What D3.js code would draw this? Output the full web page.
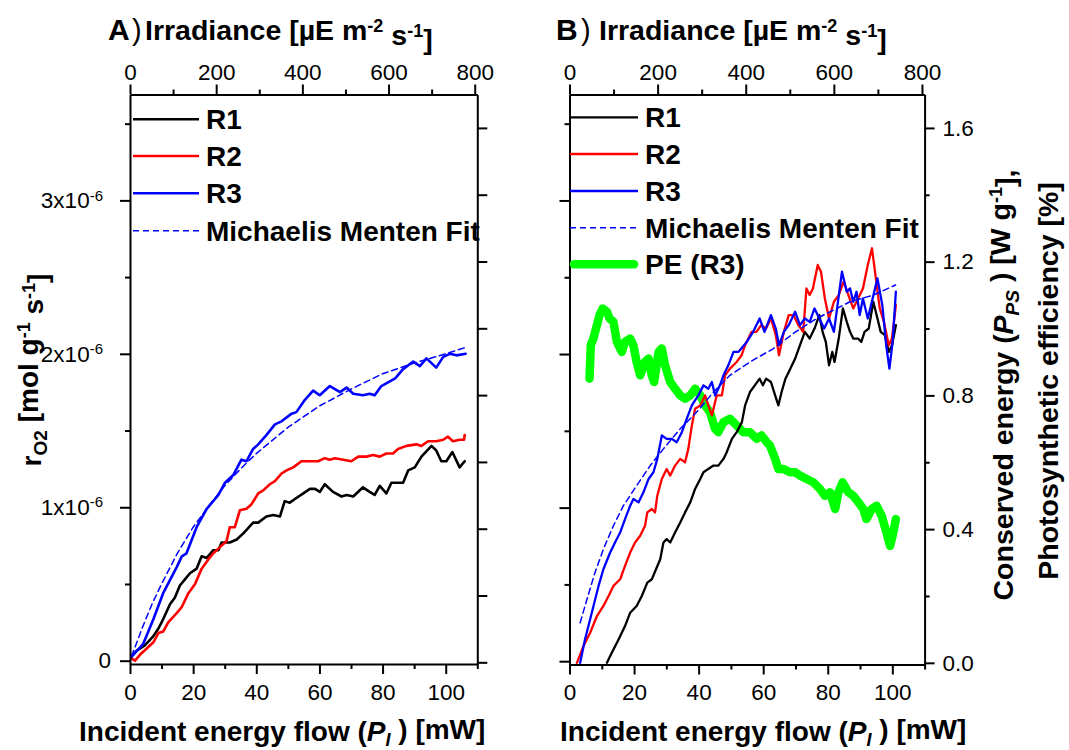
<!DOCTYPE html>
<html>
<head>
<meta charset="utf-8">
<script src="https://cdn.jsdelivr.net/npm/d3@7"></script>
<style>
  body { margin: 0; background: #fff; }
  text { font-family: "Liberation Sans", Arial, sans-serif; }
</style>
</head>
<body>
<div id="chart"></div>
<script>
// ---- data ----
// Panel A: x = incident energy flow [mW], y = rO2 in units of 1e-6 mol g-1 s-1
var r1A = [[0,0.015],[2.1,0.065],[4.7,0.10],[7.4,0.16],[9,0.21],[10.5,0.27],[12.7,0.37],[14.2,0.41],[15.8,0.49],[17.4,0.53],[19,0.57],[21.1,0.60],[22.7,0.68],[24.3,0.67],[26.4,0.72],[28,0.72],[29,0.77],[31.6,0.77],[33.8,0.79],[35.9,0.83],[39,0.90],[40.6,0.90],[43.2,0.94],[45.4,0.95],[47.5,0.94],[49,1.04],[50.6,1.03],[52.7,1.06],[54.9,1.09],[57,1.12],[58.6,1.12],[60.1,1.10],[61.7,1.15],[64.3,1.10],[67,1.07],[68.6,1.08],[70.7,1.07],[73.8,1.13],[75.9,1.10],[77.5,1.08],[79.1,1.14],[81.2,1.09],[82.8,1.16],[84.9,1.16],[86.5,1.16],[88.1,1.24],[90.2,1.26],[92.3,1.33],[95.5,1.40],[97,1.37],[98.6,1.30],[100.2,1.30],[102.1,1.36],[104.4,1.26],[106,1.30]];
var r2A = [[0,0.02],[1.6,0.0],[3.2,0.04],[5.3,0.08],[7.4,0.12],[9,0.18],[10.5,0.19],[12.1,0.25],[14.8,0.31],[16.4,0.35],[18.5,0.44],[20.6,0.50],[22.7,0.60],[24.8,0.66],[26.4,0.70],[28.5,0.74],[30.6,0.78],[31.6,0.87],[33.2,0.87],[34.8,0.98],[36.9,0.99],[38.5,1.02],[40.6,1.09],[42.2,1.11],[44.3,1.15],[45.9,1.17],[48,1.22],[49.6,1.24],[51.7,1.26],[54.3,1.30],[56.9,1.30],[59.6,1.30],[61.7,1.32],[63.3,1.31],[64.9,1.32],[67.5,1.31],[70.1,1.30],[72.3,1.33],[74.9,1.33],[77,1.34],[79.1,1.33],[81.2,1.35],[83.3,1.35],[84.9,1.38],[87.6,1.40],[90.7,1.41],[92.3,1.40],[94.4,1.43],[97,1.43],[99.2,1.44],[100.7,1.46],[102.3,1.43],[104.4,1.44],[105.8,1.44],[106,1.47]];
var r3A = [[0,0.015],[4.2,0.11],[7.4,0.27],[10.5,0.44],[14.8,0.61],[16.4,0.68],[17.9,0.70],[21.1,0.87],[24.3,0.99],[28,1.08],[30.1,1.16],[32.7,1.21],[35.3,1.31],[36.9,1.30],[39,1.38],[40.6,1.41],[43.2,1.47],[45.9,1.54],[48,1.56],[51.2,1.61],[52.7,1.62],[55.4,1.70],[58,1.76],[60.1,1.73],[63.3,1.79],[66.5,1.75],[68.6,1.78],[70.7,1.74],[73.8,1.73],[75.9,1.74],[77.5,1.73],[79.6,1.79],[82.3,1.82],[84,1.84],[86.5,1.90],[89.7,1.95],[91.8,1.92],[93.9,1.97],[97,1.91],[99.2,1.98],[101.3,2.0],[103.4,1.99],[106.3,2.0]];
var fitA = [[0.5,0.03],[2,0.11],[4,0.22],[7,0.37],[10,0.50],[15,0.70],[20,0.87],[25,1.01],[30,1.14],[35,1.25],[40,1.35],[50,1.52],[60,1.66],[70,1.77],[80,1.87],[90,1.94],[100,2.00],[106,2.04]];

// Panel B: x = incident energy flow [mW], y = conserved energy [W g-1] / PE [%]
var r1B = [[11.6,0],[13.1,0.03],[15.2,0.07],[17.2,0.11],[18.8,0.15],[20.8,0.17],[22.4,0.20],[24.1,0.24],[25.5,0.25],[26.8,0.28],[28.1,0.31],[29.1,0.36],[30.1,0.37],[31.2,0.36],[32.7,0.39],[34.3,0.42],[35.8,0.45],[37.4,0.48],[38.9,0.52],[40.5,0.55],[41.5,0.57],[43,0.58],[44.6,0.59],[46.1,0.59],[47.7,0.61],[48.7,0.63],[50.3,0.67],[51.8,0.69],[53.4,0.72],[54.4,0.77],[55.9,0.81],[57.4,0.83],[58.9,0.85],[59.9,0.83],[60.9,0.85],[62.4,0.84],[63.7,0.80],[64.7,0.77],[65.7,0.81],[66.9,0.85],[68.4,0.88],[69.9,0.91],[71.4,0.95],[72.9,0.99],[74.4,0.97],[75.9,1.00],[77.4,1.04],[78.4,0.99],[79.4,0.96],[80.4,0.89],[81.4,0.93],[82.1,0.90],[83.4,0.97],[84.7,1.06],[85.9,1.02],[86.9,0.99],[87.9,0.97],[89.4,0.97],[90.4,0.96],[91.4,0.99],[92.7,1.00],[94.1,1.08],[95.4,1.03],[96.4,0.99],[97.7,0.98],[98.9,0.93],[99.9,0.95],[101.1,1.01]];
var r2B = [[2.3,0],[4.3,0.05],[6.4,0.09],[8.5,0.14],[10.5,0.17],[12.1,0.20],[13.6,0.23],[15.7,0.25],[17.2,0.29],[18.8,0.33],[20.3,0.36],[21.9,0.38],[23.4,0.41],[24.1,0.45],[25.5,0.46],[26.5,0.45],[27.2,0.50],[28.6,0.55],[30.1,0.58],[31.2,0.56],[32.7,0.59],[34.3,0.61],[35.8,0.60],[36.8,0.64],[37.9,0.71],[38.9,0.76],[40.5,0.77],[42,0.80],[43,0.77],[44.1,0.74],[45.6,0.80],[47.2,0.80],[48.2,0.86],[49.7,0.88],[51.8,0.90],[53.3,0.92],[54.4,0.95],[56.4,0.99],[57.9,0.99],[59.4,1.01],[60.9,1.00],[62.4,1.03],[63.9,0.98],[64.9,0.92],[66.4,0.99],[67.9,1.04],[69.4,1.04],[70.9,1.01],[72.4,0.99],[73.4,1.12],[74.4,1.10],[75.4,1.12],[76.9,1.19],[77.9,1.17],[79.1,1.09],[80.4,1.03],[81.9,1.08],[83.4,1.10],[84.9,1.14],[86.4,1.10],[87.9,1.06],[89.4,1.09],[90.9,1.12],[92.4,1.19],[93.7,1.24],[94.9,1.15],[96.1,1.06],[97.4,1.02],[98.9,0.95],[99.9,0.97],[101.1,1.07]];
var r3B = [[3.3,0],[4.8,0.07],[6.9,0.15],[9,0.23],[10.5,0.28],[12.6,0.33],[14.1,0.36],[15.7,0.39],[17.2,0.43],[18.8,0.47],[19.8,0.49],[21.4,0.48],[22.9,0.51],[24.5,0.55],[26,0.57],[27.2,0.61],[28.6,0.68],[30.1,0.67],[31.7,0.67],[33.2,0.66],[34.8,0.69],[36.3,0.73],[37.9,0.77],[39.9,0.80],[41.5,0.83],[43,0.82],[44.1,0.84],[45.1,0.80],[46.6,0.83],[47.7,0.86],[49.2,0.89],[50.8,0.93],[52.3,0.93],[54.9,0.96],[56.9,0.99],[58.9,1.03],[60.4,0.99],[62.4,1.04],[63.9,1.00],[64.9,0.95],[66.4,0.99],[67.9,1.01],[69.9,1.05],[71.4,1.01],[72.9,1.03],[74.4,1.02],[75.9,1.06],[77.4,1.03],[78.9,1.00],[80.4,1.03],[81.9,0.99],[82.9,1.06],[84.4,1.17],[85.9,1.11],[86.9,1.12],[87.9,1.08],[88.9,1.11],[89.9,1.04],[90.9,1.09],[92.4,1.03],[93.9,1.09],[95.4,1.15],[96.9,1.07],[98.1,0.95],[99.1,0.88],[100.1,0.96],[101.1,1.11]];
var fitB = [[3.3,0.12],[5.4,0.19],[7.9,0.27],[10.5,0.34],[13.6,0.41],[16.7,0.47],[20.8,0.53],[25,0.59],[29.1,0.64],[34.3,0.70],[39.4,0.75],[44.6,0.81],[49.7,0.86],[55.9,0.90],[63.2,0.94],[70,0.99],[76.6,1.03],[86.9,1.08],[94.1,1.10],[101,1.13]];
var peB = [[6.2,0.85],[6.6,0.95],[7.4,0.97],[8.5,1.01],[9.3,1.04],[10.3,1.06],[11.6,1.05],[12.4,1.03],[13.6,1.02],[14.7,0.96],[16.2,0.93],[17.2,0.96],[18.8,0.97],[19.8,0.95],[20.8,0.90],[21.9,0.86],[23.4,0.90],[24.5,0.91],[25.5,0.86],[26.2,0.84],[27.6,0.93],[28.6,0.94],[29.6,0.89],[31.2,0.84],[32.7,0.82],[34.3,0.80],[35.8,0.79],[37.4,0.80],[38.9,0.82],[40.5,0.80],[42,0.77],[43.5,0.75],[45.1,0.70],[46.1,0.69],[47.7,0.72],[49.7,0.73],[51.8,0.71],[53.9,0.69],[55.9,0.69],[58,0.67],[59.5,0.68],[61.1,0.66],[62.1,0.65],[63.7,0.61],[64.7,0.58],[66.3,0.58],[68.3,0.57],[69.9,0.57],[71.4,0.56],[73.5,0.55],[75.5,0.54],[77.6,0.52],[79.1,0.50],[80.7,0.51],[82.3,0.46],[83.3,0.51],[84.6,0.54],[86.4,0.51],[87.9,0.50],[89.5,0.48],[91,0.46],[92,0.43],[93.6,0.46],[95.1,0.47],[96.7,0.44],[98.2,0.39],[99.3,0.35],[100.1,0.38],[101.1,0.43]];

// tick values
var xMajor = [0, 20, 40, 60, 80, 100];
var xMinor = [10, 30, 50, 70, 90, 110];
var topMajor = [0, 200, 400, 600, 800];
var topMinor = [100, 300, 500, 700];
var leftMajor = [0, 1, 2, 3];
var leftMinor = [0.5, 1.5, 2.5, 3.5];
var rightMajor = [0, 0.4, 0.8, 1.2, 1.6];
var rightMinor = [0.2, 0.6, 1.0, 1.4];

var legendA = ["R1", "R2", "R3", "Michaelis Menten Fit"];
var legendB = ["R1", "R2", "R3", "Michaelis Menten Fit", "PE (R3)"];

//---------------------------------------------------------------------
var svg = d3.select("#chart")
  .append("svg")
  .attr("width", 1069)
  .attr("height", 750);

var panels = {
  A: { left: 130, right: 477.3, top: 94.5, bottom: 664 },
  B: { left: 569.5, right: 924.6, top: 94.5, bottom: 664.5 }
};

function styleAxis(g) {
  g.select(".domain").attr("stroke", "#000").attr("stroke-width", 2);
  g.selectAll(".tick line").attr("stroke", "#000").attr("stroke-width", 2);
  g.selectAll(".tick text").attr("font-size", 22.5).attr("fill", "#000")
    .attr("font-family", "'Liberation Sans', Arial, sans-serif");
}

function drawAxis(axisFn, scale, transform, major, minor, majorLen, minorLen, pad, fmt) {
  var g = svg.append("g").attr("transform", transform)
    .call(axisFn(scale).tickValues(major).tickSize(majorLen).tickSizeOuter(0)
      .tickPadding(pad).tickFormat(fmt || ""));
  styleAxis(g);
  if (minor) {
    var m = svg.append("g").attr("transform", transform)
      .call(axisFn(scale).tickValues(minor).tickSize(minorLen).tickSizeOuter(0).tickFormat(""));
    m.select(".domain").remove();
    styleAxis(m);
  }
  return g;
}

// labels like 2x10^-6 on panel A's left axis
function sciLabels(g) {
  g.selectAll(".tick text").each(function(d) {
    var t = d3.select(this);
    t.text(null);
    if (d === 0) { t.text("0"); return; }
    t.attr("x", -27);
    t.append("tspan").text(d + "x10");
    t.append("tspan").attr("dy", "-0.5em").attr("font-size", 15).text("-6");
  });
}

function drawPanel(key, series) {
  var p = panels[key];
  var x = d3.scaleLinear().domain([0, 110]).range([p.left, p.right]);
  var xTop = d3.scaleLinear().domain([0, 806]).range([p.left, p.right]);
  var yL = d3.scaleLinear().domain([-0.0215, 3.69]).range([p.bottom, p.top]);
  var yR = d3.scaleLinear().domain([-0.005, 1.70]).range([p.bottom, p.top]);

  var clipId = "clip" + key;
  svg.append("clipPath").attr("id", clipId).append("rect")
    .attr("x", p.left).attr("y", p.top)
    .attr("width", p.right - p.left).attr("height", p.bottom - p.top);
  var plot = svg.append("g").attr("clip-path", "url(#" + clipId + ")");

  series.forEach(function(s) {
    var y = s.axis === "left" ? yL : yR;
    var line = d3.line().x(d => x(d[0])).y(d => y(d[1]));
    plot.append("path")
      .datum(s.data)
      .attr("d", line)
      .attr("fill", "none")
      .attr("stroke", s.color)
      .attr("stroke-width", s.width)
      .attr("stroke-linejoin", "round")
      .attr("stroke-linecap", "round")
      .attr("stroke-dasharray", s.dash || null);
  });

  // axes
  drawAxis(d3.axisBottom, x, `translate(0, ${p.bottom})`, xMajor, xMinor, 10, 5, 10, d3.format("d"));
  drawAxis(d3.axisTop, xTop, `translate(0, ${p.top})`, topMajor, topMinor, 10, 5, 5, d3.format("d"));
  if (key === "A") {
    var gl = drawAxis(d3.axisLeft, yL, `translate(${p.left}, 0)`, leftMajor, leftMinor, 10, 5, 9, d3.format("d"));
    sciLabels(gl);
    drawAxis(d3.axisRight, yR, `translate(${p.right}, 0)`, rightMajor.concat(rightMinor), null, 10, 5, 8, null);
  } else {
    drawAxis(d3.axisLeft, yL, `translate(${p.left}, 0)`, leftMajor, leftMinor, 10, 5, 9, null);
    drawAxis(d3.axisRight, yR, `translate(${p.right}, 0)`, rightMajor, rightMinor, 10, 5, 8, d3.format(".1f"));
  }
}

function drawLegend(names, series, ys, x0, x1, textX) {
  names.forEach(function(name, i) {
    var s = series[i];
    var thick = s.width > 5;
    svg.append("line")
      .attr("x1", thick ? x0 + 4 : x0).attr("x2", thick ? x1 - 4 : x1)
      .attr("y1", ys[i]).attr("y2", ys[i])
      .attr("stroke", s.color).attr("stroke-width", s.width)
      .attr("stroke-linecap", thick ? "round" : "butt")
      .attr("stroke-dasharray", s.dash || null);
    svg.append("text")
      .attr("x", textX).attr("y", ys[i] + 10)
      .attr("font-size", 28).attr("font-weight", "bold")
      .text(name);
  });
}

var seriesA = [
  { data: r1A, color: "#000000", width: 2.6, axis: "left" },
  { data: r2A, color: "#ff0000", width: 2.6, axis: "left" },
  { data: r3A, color: "#0000ff", width: 2.6, axis: "left" },
  { data: fitA, color: "#0000ff", width: 1.5, dash: "6,4", axis: "left" }
];
var seriesB = [
  { data: r1B, color: "#000000", width: 2.3, axis: "right" },
  { data: r2B, color: "#ff0000", width: 2.3, axis: "right" },
  { data: r3B, color: "#0000ff", width: 2.3, axis: "right" },
  { data: fitB, color: "#0000ff", width: 1.5, dash: "6,4", axis: "right" },
  { data: peB, color: "#00ff00", width: 8.5, axis: "right" }
];

drawPanel("A", seriesA);
// PE drawn first in panel B so the other curves sit on top
drawPanel("B", [seriesB[4]].concat(seriesB.slice(0, 4)));
drawLegend(legendA, seriesA, [119.3, 156, 193.3, 230.7], 133, 199, 206);
drawLegend(legendB, seriesB, [117.3, 154, 191, 227.7, 264.3], 570, 638, 645);

// ---- titles ----
function irradianceTitle(xLetter, letter, xParen, xText) {
  svg.append("text").attr("x", xLetter).attr("y", 40)
    .attr("font-size", 30).attr("font-weight", "bold").text(letter);
  svg.append("text").attr("x", xParen).attr("y", 40)
    .attr("font-size", 29).text(")");
  var t = svg.append("text").attr("x", xText).attr("y", 40)
    .attr("font-size", 28.5).attr("font-weight", "bold");
  t.append("tspan").text("Irradiance [µE m");
  t.append("tspan").attr("dy", "-0.45em").attr("font-size", 18).text("-2");
  t.append("tspan").attr("dy", "0.45em").text(" s");
  t.append("tspan").attr("dy", "-0.45em").attr("font-size", 18).text("-1");
  t.append("tspan").attr("dy", "0.45em").text("]");
}
irradianceTitle(108, "A", 132, 145);
irradianceTitle(556, "B", 581, 599);

function energyTitle(x0) {
  var t = svg.append("text").attr("x", x0).attr("y", 741)
    .attr("font-size", 28).attr("font-weight", "bold");
  t.append("tspan").text("Incident energy flow (");
  t.append("tspan").attr("font-style", "italic").text("P");
  t.append("tspan").attr("font-style", "italic").attr("font-size", 18).attr("dy", "0.25em").text("I");
  t.append("tspan").attr("dy", "-0.25em").text(" ) [mW]");
}
energyTitle(79);
energyTitle(560);

// left y title (panel A)
var yt = svg.append("text")
  .attr("transform", "translate(41, 370) rotate(-90)")
  .attr("text-anchor", "middle")
  .attr("font-size", 28).attr("font-weight", "bold");
yt.append("tspan").text("r");
yt.append("tspan").attr("font-size", 19).attr("dy", "0.3em").text("O2");
yt.append("tspan").attr("dy", "-0.3em").text(" [mol g");
yt.append("tspan").attr("font-size", 18).attr("dy", "-0.45em").text("-1");
yt.append("tspan").attr("dy", "0.45em").text(" s");
yt.append("tspan").attr("font-size", 18).attr("dy", "-0.45em").text("-1");
yt.append("tspan").attr("dy", "0.45em").text("]");

// right y title (panel B), two lines
var rt1 = svg.append("text")
  .attr("transform", "translate(1013, 385) rotate(-90)")
  .attr("text-anchor", "middle")
  .attr("font-size", 28.5).attr("font-weight", "bold");
rt1.append("tspan").text("Conserved energy (");
rt1.append("tspan").attr("font-style", "italic").text("P");
rt1.append("tspan").attr("font-style", "italic").attr("font-size", 19).attr("dy", "0.3em").text("PS");
rt1.append("tspan").attr("dy", "-0.3em").text(" ) [W g");
rt1.append("tspan").attr("font-size", 18).attr("dy", "-0.45em").text("-1");
rt1.append("tspan").attr("dy", "0.45em").text("],");

svg.append("text")
  .attr("transform", "translate(1058, 381) rotate(-90)")
  .attr("text-anchor", "middle")
  .attr("font-size", 28.5).attr("font-weight", "bold")
  .text("Photosynthetic efficiency [%]");
</script>
</body>
</html>
